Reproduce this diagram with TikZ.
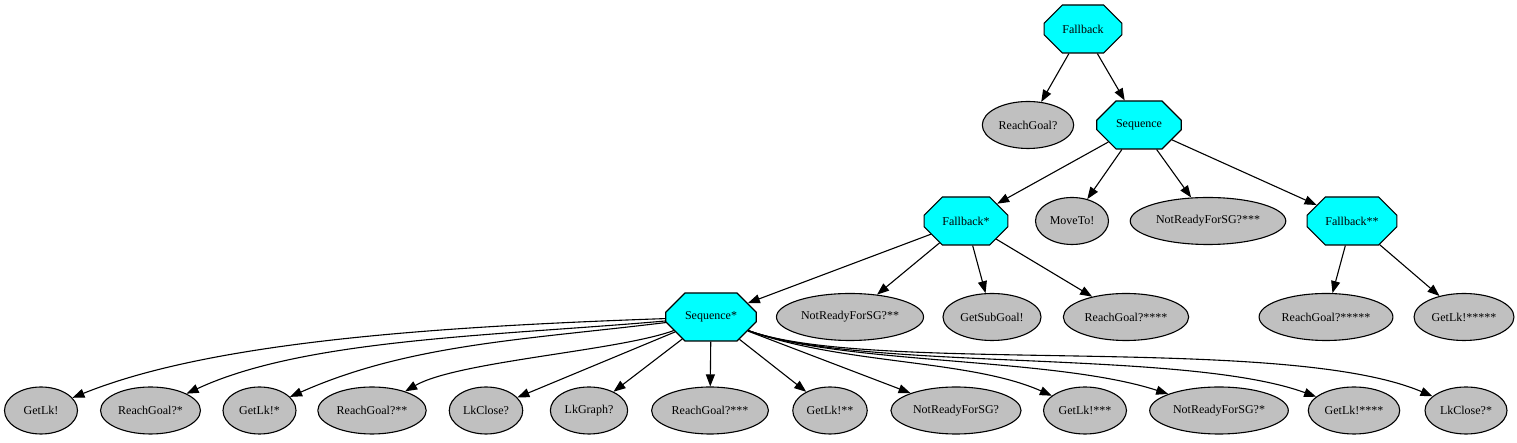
\documentclass[tikz,border=0pt]{standalone}
\usepackage{fontspec}
\setmainfont{Liberation Serif}
\usetikzlibrary{shapes.misc, shapes.geometric, arrows.meta}
\definecolor{leafgray}{RGB}{192,192,192}
\definecolor{ctrlcyan}{RGB}{0,255,255}

\begin{document}
\begin{tikzpicture}[x=1pt, y=1pt,
  ctrl/.style={draw, chamfered rectangle, chamfered rectangle xsep=22pt, chamfered rectangle ysep=14pt,
    fill=ctrlcyan, inner xsep=14pt, inner ysep=0pt, minimum height=48pt, line width=1.1pt,
    font=\fontsize{12}{14}\selectfont},
  leaf/.style={draw, ellipse, fill=leafgray, inner xsep=3pt, inner ysep=0pt,
    minimum width=73pt, minimum height=47pt, line width=1.1pt, font=\fontsize{12}{14}\selectfont},
  arr/.style={-{Triangle[length=12pt, width=9pt]}, line width=1.1pt}]
\useasboundingbox (0,0) rectangle (1517,443);

\node[ctrl] (fb) at (1083, 414) {Fallback};

\node[leaf] (rg) at (1028, 318) {ReachGoal?};
\node[ctrl] (sq) at (1139, 318) {Sequence};

\node[ctrl] (fb1) at (966, 222) {Fallback*};
\node[leaf] (mv) at (1072, 222) {MoveTo!};
\node[leaf] (nr3) at (1208, 222) {NotReadyForSG?***};
\node[ctrl] (fb2) at (1352, 222) {Fallback**};

\node[ctrl] (sq1) at (711, 126) {Sequence*};
\node[leaf] (nr2) at (850, 126) {NotReadyForSG?**};
\node[leaf] (gsg) at (992, 126) {GetSubGoal!};
\node[leaf] (rg4) at (1126, 126) {ReachGoal?****};
\node[leaf] (rg5) at (1326, 126) {ReachGoal?*****};
\node[leaf] (gl5) at (1464, 126) {GetLk!*****};

\node[leaf] (gl) at (41, 32.5) {GetLk!};
\node[leaf] (rg1) at (150.5, 32.5) {ReachGoal?*};
\node[leaf] (gl1) at (259.5, 32.5) {GetLk!*};
\node[leaf] (rg2) at (372, 32.5) {ReachGoal?**};
\node[leaf] (lc) at (486, 32.5) {LkClose?};
\node[leaf] (lgr) at (589, 32.5) {LkGraph?};
\node[leaf] (rg3) at (710, 32.5) {ReachGoal?***};
\node[leaf] (gl2) at (830, 32.5) {GetLk!**};
\node[leaf] (nr) at (956, 32.5) {NotReadyForSG?};
\node[leaf] (gl3) at (1085, 32.5) {GetLk!***};
\node[leaf] (nr1) at (1219, 32.5) {NotReadyForSG?*};
\node[leaf] (gl4) at (1354, 32.5) {GetLk!****};
\node[leaf] (lc1) at (1466, 32.5) {LkClose?*};

\draw[arr] (fb) -- (rg);
\draw[arr] (fb) -- (sq);
\draw[arr] (sq) -- (fb1);
\draw[arr] (sq) -- (mv);
\draw[arr] (sq) -- (nr3);
\draw[arr] (sq) -- (fb2);
\draw[arr] (fb1) -- (sq1);
\draw[arr] (fb1) -- (nr2);
\draw[arr] (fb1) -- (gsg);
\draw[arr] (fb1) -- (rg4);
\draw[arr] (fb2) -- (rg5);
\draw[arr] (fb2) -- (gl5);

% children of Sequence*
\draw[arr] (sq1) to[out=182, in=22, out distance=230pt, in distance=150pt] (gl);
\draw[arr] (sq1) to[out=185, in=25, out distance=170pt, in distance=130pt] (rg1);
\draw[arr] (sq1) to[out=187, in=24, out distance=140pt, in distance=130pt] (gl1);
\draw[arr] (sq1) to[out=200, in=30, out distance=60pt, in distance=60pt] (rg2);
\draw[arr] (sq1) -- (lc);
\draw[arr] (sq1) -- (lgr);
\draw[arr] (sq1) -- (rg3);
\draw[arr] (sq1) -- (gl2);
\draw[arr] (sq1) -- (nr);
\draw[arr] (sq1) to[out=-20, in=156, out distance=100pt, in distance=90pt] (gl3);
\draw[arr] (sq1) to[out=-20, in=162, out distance=100pt, in distance=120pt] (nr1);
\draw[arr] (sq1) to[out=-20, in=160, out distance=120pt, in distance=140pt] (gl4);
\draw[arr] (sq1) to[out=-20, in=157, out distance=130pt, in distance=160pt] (lc1);
\end{tikzpicture}
\end{document}
